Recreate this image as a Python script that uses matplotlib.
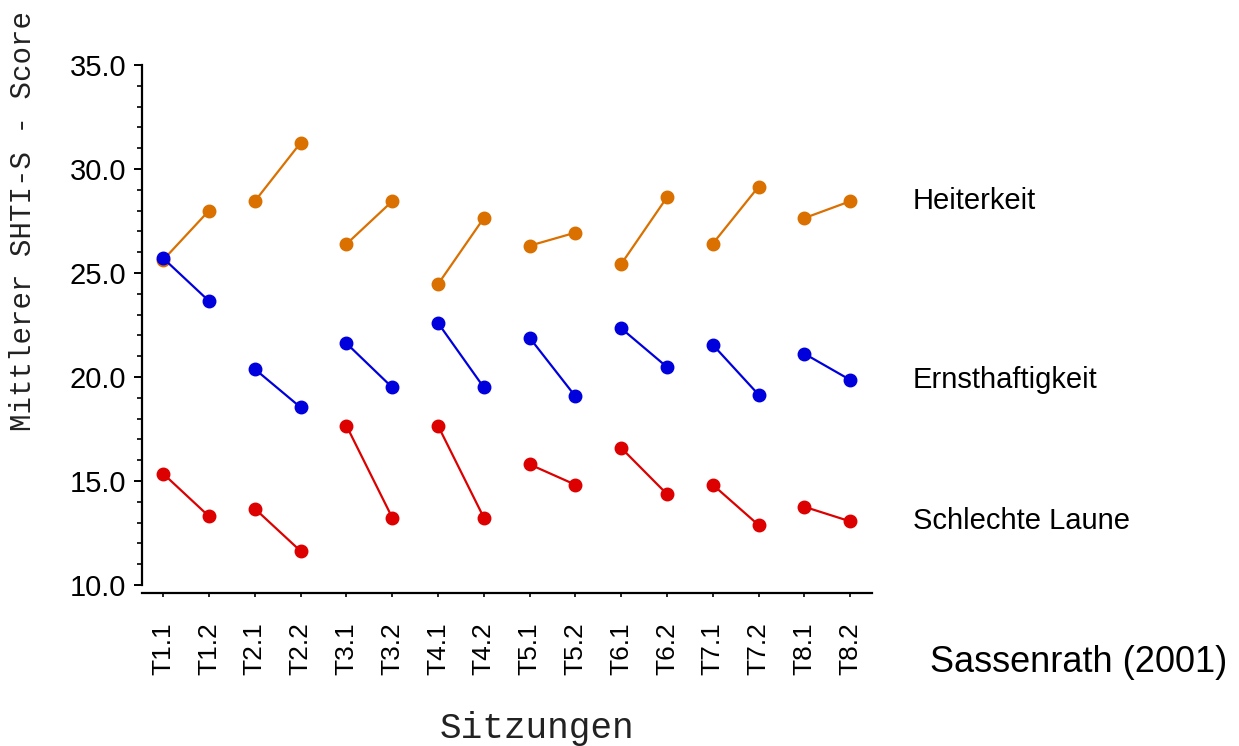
import matplotlib
matplotlib.use("Agg")
import matplotlib.pyplot as plt
from matplotlib.ticker import MultipleLocator, FormatStrFormatter

sessions = ["T1.1", "T1.2", "T2.1", "T2.2", "T3.1", "T3.2", "T4.1", "T4.2",
            "T5.1", "T5.2", "T6.1", "T6.2", "T7.1", "T7.2", "T8.1", "T8.2"]
heiterkeit = [25.63, 28.00, 28.45, 31.26, 26.39, 28.45, 24.46, 27.64,
              26.31, 26.94, 25.43, 28.64, 26.41, 29.15, 27.64, 28.45]
ernsthaftigkeit = [25.71, 23.65, 20.38, 18.54, 21.62, 19.50, 22.60, 19.50,
                   21.89, 19.07, 22.34, 20.48, 21.55, 19.15, 21.12, 19.86]
schlechte_laune = [15.35, 13.30, 13.67, 11.63, 17.66, 13.24, 17.66, 13.24,
                   15.80, 14.82, 16.59, 14.37, 14.82, 12.88, 13.76, 13.06]

series = [("Heiterkeit", heiterkeit, "#d97000"),
          ("Ernsthaftigkeit", ernsthaftigkeit, "#0000dd"),
          ("Schlechte Laune", schlechte_laune, "#dd0000")]

sans = "Liberation Sans"
mono = "Liberation Mono"

fig = plt.figure(figsize=(12.39, 7.46), dpi=100)
ax = fig.add_axes([141.7 / 1239, 1 - 585 / 746, 730 / 1239, 520 / 746])

# spine position first, it resets the tick labels
ax.spines["top"].set_visible(False)
ax.spines["right"].set_visible(False)
ax.spines["left"].set_linewidth(1.6)
ax.spines["bottom"].set_linewidth(1.6)
ax.spines["bottom"].set_position(("outward", 6))

x = list(range(len(sessions)))
for name, vals, col in series:
    # pairs of sessions are connected (T?.1 -> T?.2)
    for i in range(0, len(vals), 2):
        ax.plot(x[i:i + 2], vals[i:i + 2], color=col, lw=1.6,
                marker="o", ms=9, clip_on=False)
    ax.annotate(name, xy=(x[-1], vals[-1]), xytext=(45, 0),
                textcoords="offset points", va="center", ha="left",
                fontsize=21, family=sans, annotation_clip=False)

ax.set_xlim(-0.47, len(sessions) - 1 + 0.47)
ax.set_ylim(10, 35)
ax.tick_params(axis="y", which="major", length=6, width=1.4, pad=5)
ax.tick_params(axis="y", which="minor", length=3.5, width=1.2)
ax.tick_params(axis="x", length=3, width=1.2, pad=18)
ax.set_xticks(x)
ax.set_xticklabels(sessions, rotation=90, family=sans, fontsize=19)
ax.yaxis.set_major_locator(MultipleLocator(5))
ax.yaxis.set_minor_locator(MultipleLocator(1))
ax.yaxis.set_major_formatter(FormatStrFormatter("%.1f"))
for lab in ax.get_yticklabels():
    lab.set_family(sans)
    lab.set_fontsize(21)

fig.text(23 / 1239, 1 - 221 / 746, "Mittlerer SHTI-S - Score", rotation=90,
         ha="center", va="center", family=mono, fontsize=21, color="#222222")
fig.text(536.5 / 1239, 1 - 728 / 746, "Sitzungen", ha="center", va="center",
         family=mono, fontsize=26, color="#222222")
fig.text(930 / 1239, 1 - 662 / 746, "Sassenrath (2001)", ha="left",
         va="center", family=sans, fontsize=26)

fig.savefig("out.png", dpi=100)
